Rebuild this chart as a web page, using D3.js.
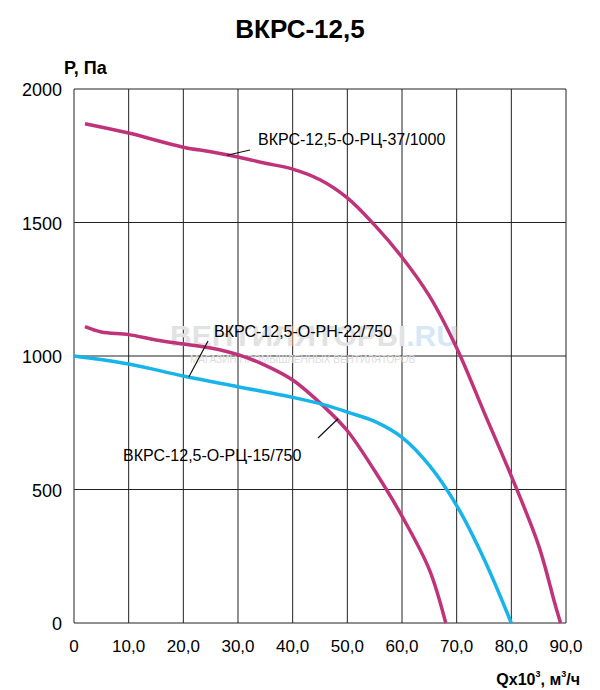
<!DOCTYPE html>
<html><head><meta charset="utf-8">
<script src="https://cdn.jsdelivr.net/npm/d3@7"></script>
<style>body{margin:0;background:#fff}text{font-family:Arial,"Liberation Sans",sans-serif}</style>
</head><body><svg id="c" width="600" height="690"></svg>
<script>
const xTicks = [0,10,20,30,40,50,60,70,80,90];
const xTickLabels = ['0','10,0','20,0','30,0','40,0','50,0','60,0','70,0','80,0','90,0'];
const yTicks = [0,500,1000,1500,2000];

// ВКРС-12,5-О-РЦ-37/1000
const q37 = [2,10,20,25,30,35,40,45,50,55,60,65,70,75,80,85,88,89];
const p37 = [1870,1835,1782,1765,1745,1722,1700,1660,1592,1490,1370,1225,1030,790,550,290,70,0];
// ВКРС-12,5-О-РН-22/750
const q22 = [2,5,10,15,20,25,30,35,40,46,50,55,60,65,68];
const p22 = [1110,1090,1080,1060,1045,1030,1005,965,910,805,720,570,400,200,0];
// ВКРС-12,5-О-РЦ-15/750
const q15 = [0,10,20,30,40,46,50,55,60,65,70,75,80];
const p15 = [1000,970,925,885,845,816,790,755,695,590,440,240,0];

const svg = d3.select('#c');
const x = d3.scaleLinear().domain([0,90]).range([74,566]);
const y = d3.scaleLinear().domain([0,2000]).range([623,89]);

svg.append('text').attr('x',300).attr('y',38).attr('text-anchor','middle')
  .attr('font-size',26).attr('font-weight','bold').text('ВКРС-12,5');
svg.append('text').attr('x',64).attr('y',74).attr('font-size',18).attr('font-weight','bold').text('P, Па');

// grid
svg.append('g').selectAll('line').data(xTicks).join('line')
  .attr('x1',d=>x(d)).attr('x2',d=>x(d)).attr('y1',y(2000)).attr('y2',y(0))
  .attr('stroke','#222').attr('stroke-width',1);
svg.append('g').selectAll('line').data(yTicks).join('line')
  .attr('x1',x(0)).attr('x2',x(90)).attr('y1',d=>y(d)).attr('y2',d=>y(d))
  .attr('stroke','#222').attr('stroke-width',1);

// watermark
svg.append('text').attr('x',170).attr('y',346).attr('font-size',30).attr('font-weight','bold')
  .attr('fill','#e2e2e2').text('ВЕНТИЛЯТОРЫ').append('tspan').attr('fill','#d6e8f7').text('.RU');
svg.append('text').attr('x',190).attr('y',363).attr('font-size',10).attr('fill','#dcdcdc').text('МАГАЗИН ПРОМЫШЛЕННЫХ ВЕНТИЛЯТОРОВ');

// axes labels
svg.append('g').selectAll('text').data(yTicks).join('text')
  .attr('x',62).attr('y',d=>y(d)+7).attr('text-anchor','end').attr('font-size',18).text(d=>d);
svg.append('g').selectAll('text').data(xTicks).join('text')
  .attr('x',d=>x(d)).attr('y',652).attr('text-anchor','middle').attr('font-size',17).text((d,i)=>xTickLabels[i]);
const xl = svg.append('text').attr('x',580).attr('y',685).attr('text-anchor','end').attr('font-size',16).attr('font-weight','bold');
xl.append('tspan').text('Qx10');
xl.append('tspan').attr('font-size',9).attr('dy',-8).text('3');
xl.append('tspan').attr('dy',8).text(', м');
xl.append('tspan').attr('font-size',9).attr('dy',-8).text('3');
xl.append('tspan').attr('dy',8).text('/ч');

const line = d3.line().x(d=>x(d[0])).y(d=>y(d[1])).curve(d3.curveCatmullRom);
[[q37,p37,'#c0337a'],[q22,p22,'#c0337a'],[q15,p15,'#17b4ea']].forEach(([q,p,c])=>{
  svg.append('path').attr('d',line(q.map((v,i)=>[v,p[i]])))
    .attr('fill','none').attr('stroke',c).attr('stroke-width',3.5);
});

// annotations
const notes = [
  {t:'ВКРС-12,5-О-РЦ-37/1000', tx:258, ty:145, lx1:250, ly1:150, q:28, p:1752},
  {t:'ВКРС-12,5-О-РН-22/750', tx:214, ty:337, lx1:208, ly1:341, q:21, p:921},
  {t:'ВКРС-12,5-О-РЦ-15/750', tx:123, ty:461, lx1:318, ly1:438, q:48.3, p:765}
];
notes.forEach(n=>{
  svg.append('line').attr('x1',n.lx1).attr('y1',n.ly1).attr('x2',x(n.q)).attr('y2',y(n.p))
    .attr('stroke','#111').attr('stroke-width',1.2);
  svg.append('text').attr('x',n.tx).attr('y',n.ty).attr('font-size',16).text(n.t);
});
</script></body></html>
